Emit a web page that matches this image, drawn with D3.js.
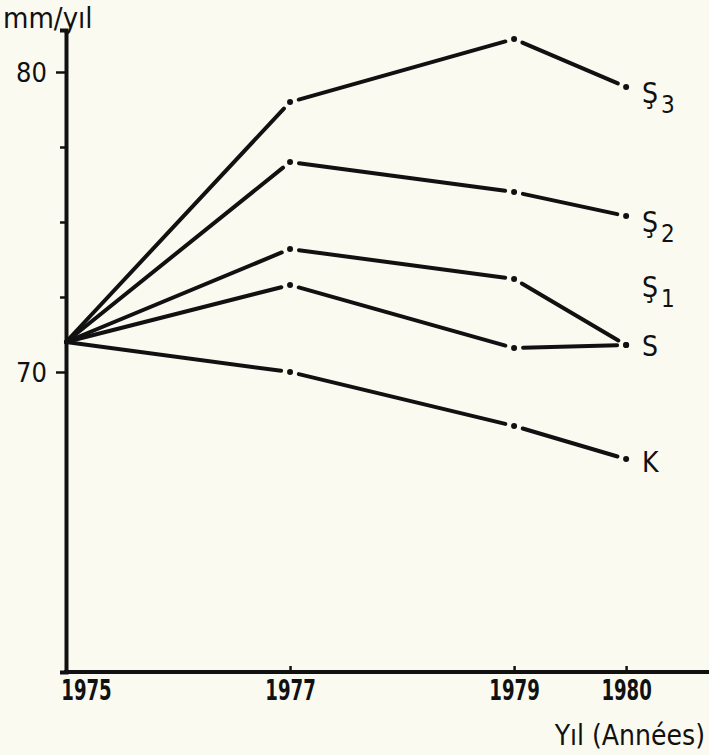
<!DOCTYPE html>
<html>
<head>
<meta charset="utf-8">
<script src="https://cdn.jsdelivr.net/npm/d3@7"></script>
<style>
  html, body { margin: 0; padding: 0; background: #fbfaf1; }
  svg { display: block; }
  text { fill: #111; font-family: "DejaVu Sans Condensed", "Liberation Sans", sans-serif; }
  .domain { stroke: #111; stroke-width: 4; }
  .tick line { stroke: #111; stroke-width: 2.5; }
</style>
</head>
<body>
<svg width="709" height="755"></svg>
<script>
const years = [1975, 1977, 1979, 1980];
const seriesLabels = ["Ş", "Ş", "Ş", "S", "K"];
const seriesSubs = ["3", "2", "1", "", ""];
const s3Values = [71.0, 79.0, 81.1, 79.5];
const s2Values = [71.0, 77.0, 76.0, 75.2];
const s1Values = [71.0, 74.1, 73.1, 70.9];
const sValues = [71.0, 72.9, 70.8, 70.9];
const kValues = [71.0, 70.0, 68.2, 67.1];
const yTicks = [80, 77.5, 75, 72.5, 70];
const yLabelled = [80, 70];

const allSeries = [s3Values, s2Values, s1Values, sValues, kValues];
// label offsets from the 1980 point (Ş1 sits above S since they meet)
const labelDy = [6, 6, -58, 1, 3];

const svg = d3.select("svg");
const width = +svg.attr("width");

const x = d3.scaleLinear().domain([1975, 1980.74]).range([66, width]);
const y = d3.scaleLinear().domain([60, 81.4]).range([672, 30]);

// y axis
const yAxis = d3.axisLeft(y)
  .tickValues(yTicks)
  .tickSizeOuter(0)
  .tickSize(6)
  .tickPadding(13)
  .tickFormat(d => yLabelled.includes(d) ? d : "");
const yAxisG = svg.append("g").attr("transform", "translate(66,0)").call(yAxis);
yAxisG.selectAll(".tick line")
  .attr("x2", d => yLabelled.includes(d) ? -10 : -6);
yAxisG.selectAll(".tick text")
  .attr("font-size", 27)
  .attr("dy", "0.36em");

// x axis, labels squeezed to look like the stencil lettering
const squeeze = 0.72;
const xAxis = d3.axisBottom(x)
  .tickValues(years)
  .tickSizeOuter(0)
  .tickSize(0)
  .tickPadding(8)
  .tickFormat(d3.format("d"));
const xAxisG = svg.append("g").attr("transform", "translate(0,672)").call(xAxis);
xAxisG.selectAll(".tick line").attr("y2", -6);
xAxisG.selectAll(".tick text")
  .attr("font-size", 28)
  .attr("font-weight", "bold")
  .attr("transform", `scale(${squeeze},1)`)
  .attr("dx", d => d === 1975 ? 20 / squeeze : 0);
xAxisG.select(".domain").attr("d", `M${x(1975) - 2},0H${width}`);

// axis titles
svg.append("text")
  .attr("x", 3).attr("y", 28)
  .attr("font-size", 29)
  .text("mm/yıl");
svg.append("text")
  .attr("x", 705).attr("y", 745)
  .attr("text-anchor", "end")
  .attr("font-size", 28)
  .text("Yıl (Années)");

// series: solid segments that stop short of each point, with a dot at the point
const gap = 9;
const lines = svg.append("g");
allSeries.forEach((vals, si) => {
  const pts = vals.map((v, i) => [x(years[i]), y(v)]);
  for (let i = 0; i < pts.length - 1; i++) {
    const [x0, y0] = pts[i], [x1, y1] = pts[i + 1];
    const len = Math.hypot(x1 - x0, y1 - y0);
    const ux = (x1 - x0) / len, uy = (y1 - y0) / len;
    const g0 = i === 0 ? 0 : gap;
    lines.append("line")
      .attr("x1", x0 + ux * g0).attr("y1", y0 + uy * g0)
      .attr("x2", x1 - ux * gap).attr("y2", y1 - uy * gap)
      .attr("stroke", "#111")
      .attr("stroke-width", 4)
      .attr("stroke-linecap", "round");
  }
  pts.slice(1).forEach(p => {
    lines.append("circle")
      .attr("cx", p[0]).attr("cy", p[1]).attr("r", 3)
      .attr("fill", "#111");
  });

  const last = pts[pts.length - 1];
  const t = svg.append("text")
    .attr("x", last[0] + 16)
    .attr("y", last[1] + labelDy[si] + 10)
    .attr("font-size", 28)
    .text(seriesLabels[si]);
  if (seriesSubs[si]) {
    t.append("tspan")
      .attr("dx", 3)
      .attr("dy", 10)
      .attr("font-size", 24)
      .text(seriesSubs[si]);
  }
});
</script>
</body>
</html>
